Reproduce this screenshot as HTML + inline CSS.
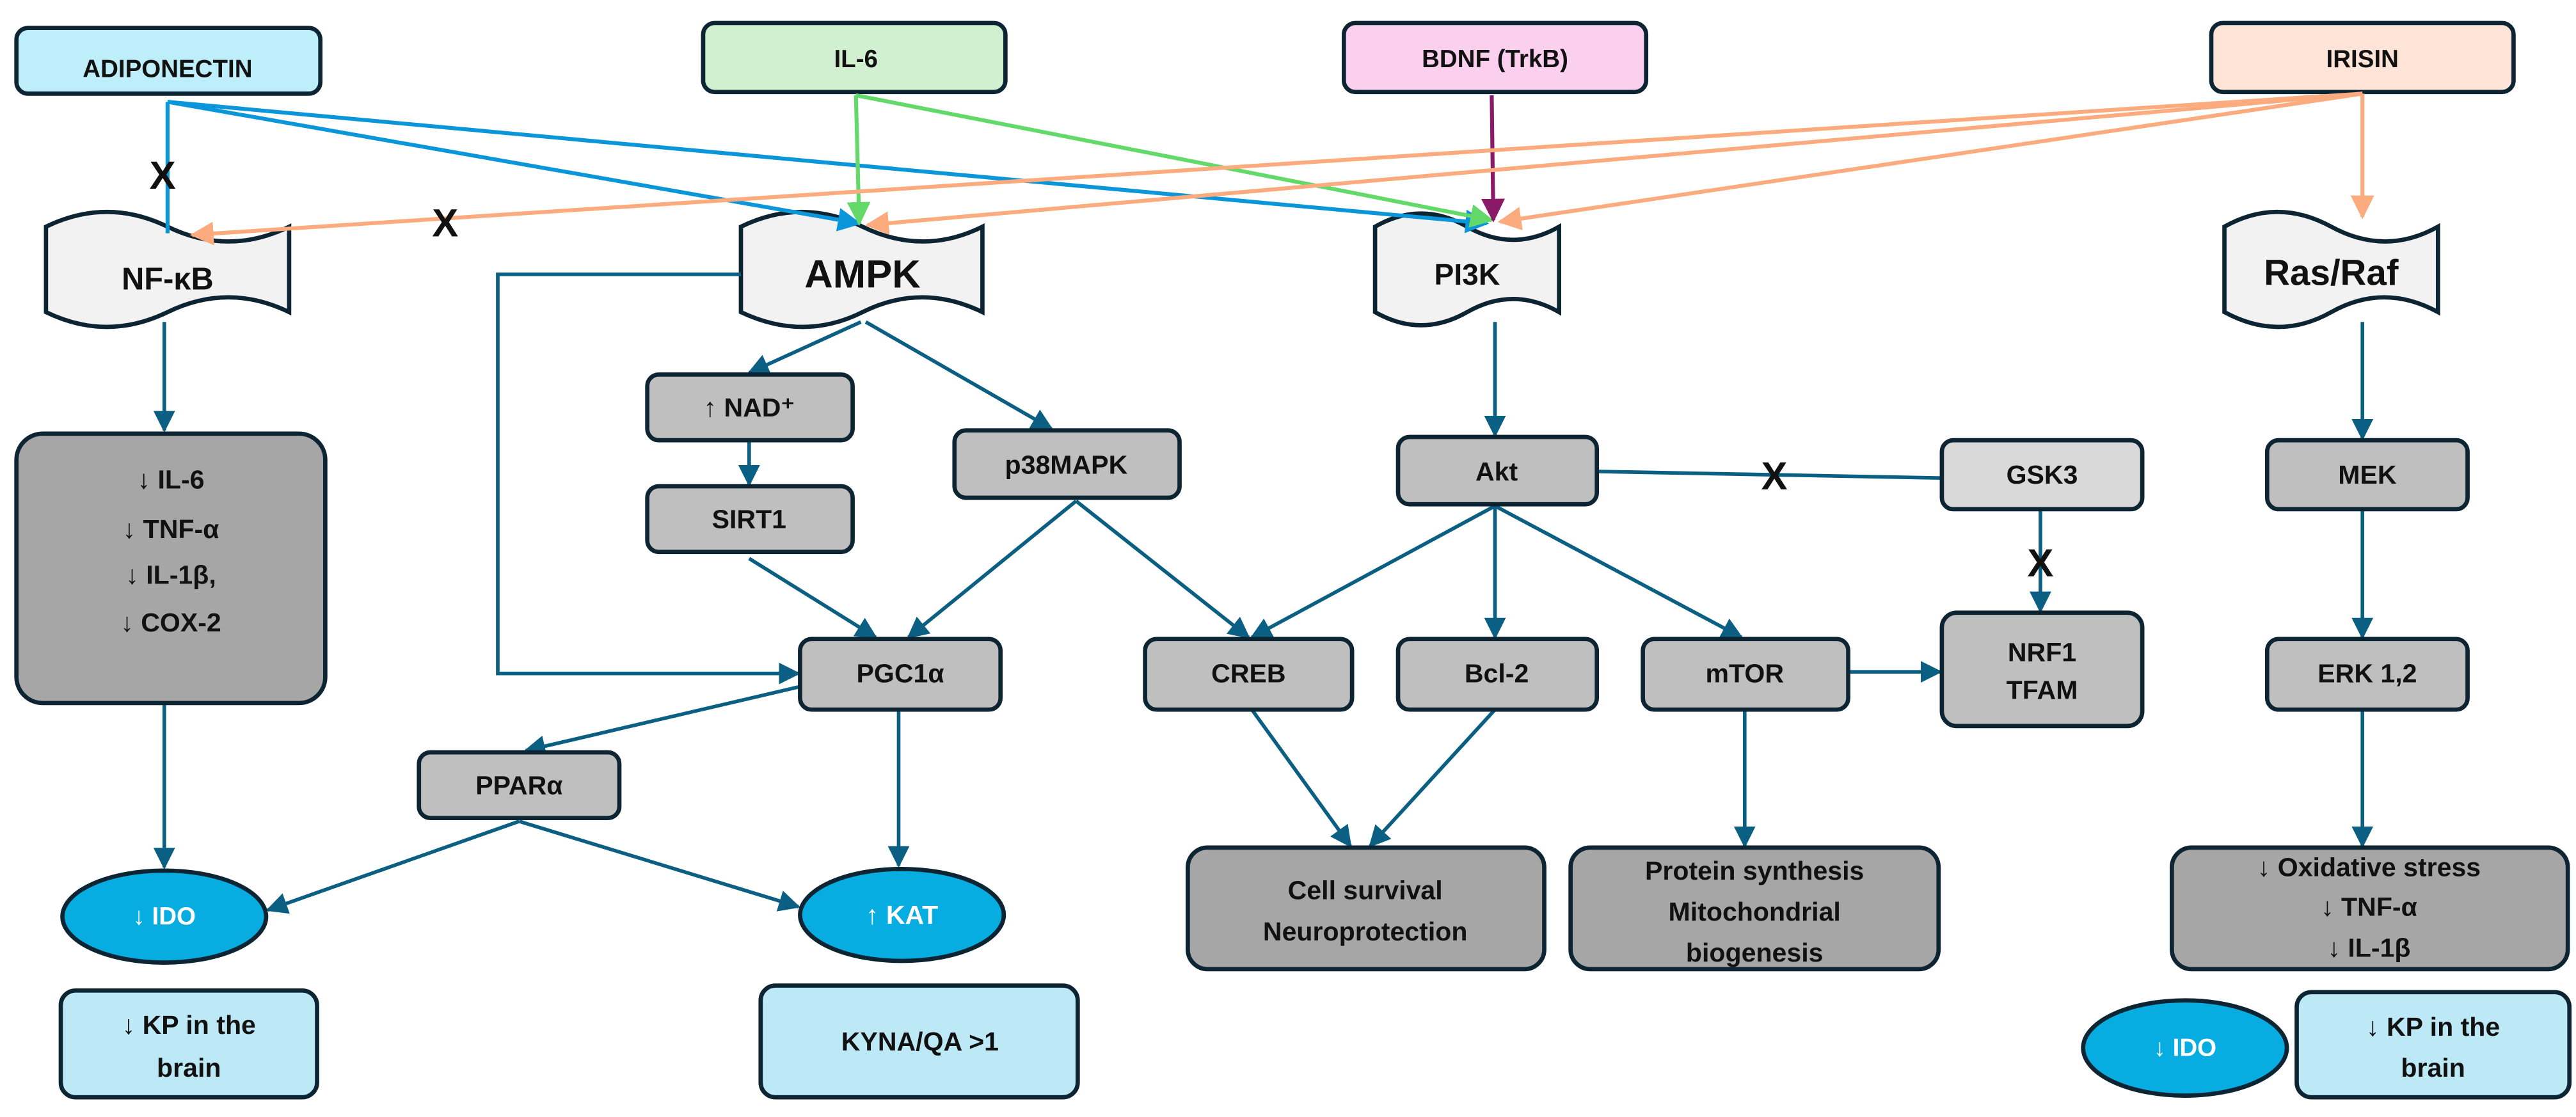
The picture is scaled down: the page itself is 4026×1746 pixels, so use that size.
<!DOCTYPE html>
<html><head><meta charset="utf-8"><style>
html,body{margin:0;padding:0;background:#fff}
svg{display:block}
text{font-family:"Liberation Sans Narrow","Liberation Sans",sans-serif;font-weight:bold;text-anchor:middle;dominant-baseline:central;fill:#111}
.b{stroke:#0d2433;stroke-width:2.6}
.l{stroke:#0b5f82;stroke-width:2.2;fill:none}
</style></head><body>
<svg width="4026" height="1746" viewBox="0 0 1568 680" xmlns="http://www.w3.org/2000/svg">
<defs>
<marker id="a" viewBox="0 0 10 10" refX="9" refY="5" markerWidth="6" markerHeight="6" orient="auto-start-reverse"><path d="M0,0L10,5L0,10z" fill="#0b5f82"/></marker>
<marker id="ab" viewBox="0 0 10 10" refX="9" refY="5" markerWidth="6" markerHeight="6" orient="auto"><path d="M0,0L10,5L0,10z" fill="#0a96d8"/></marker>
<marker id="ag" viewBox="0 0 10 10" refX="9" refY="5" markerWidth="6" markerHeight="6" orient="auto"><path d="M0,0L10,5L0,10z" fill="#62d968"/></marker>
<marker id="ap" viewBox="0 0 10 10" refX="9" refY="5" markerWidth="6" markerHeight="6" orient="auto"><path d="M0,0L10,5L0,10z" fill="#8a1a68"/></marker>
<marker id="ao" viewBox="0 0 10 10" refX="9" refY="5" markerWidth="6" markerHeight="6" orient="auto"><path d="M0,0L10,5L0,10z" fill="#fbab7e"/></marker>
</defs>

<rect class="b" x="10" y="17" width="185" height="40" rx="7" fill="#bdeefa"/><text x="102" y="42" font-size="15">ADIPONECTIN</text>
<rect class="b" x="428" y="14" width="184" height="42" rx="7" fill="#d0f0d0"/><text x="521" y="36" font-size="15">IL-6</text>
<rect class="b" x="818" y="14" width="184" height="42" rx="7" fill="#fbd0ee"/><text x="910" y="36" font-size="15">BDNF (TrkB)</text>
<rect class="b" x="1346" y="14" width="184" height="42" rx="7" fill="#fde4d6"/><text x="1438" y="36" font-size="15">IRISIN</text>

<!-- wave boxes -->
<g class="b" fill="#f2f2f2">
<path d="M28,138 Q65,120 102,138 T176,138 L176,190 Q139,172 102,190 T28,190 Z"/>
<path d="M451,138 Q488,120 525,138 T598,138 L598,190 Q561,172 525,190 T451,190 Z"/>
<path d="M837,138 Q865,122 893,138 T949,138 L949,190 Q921,174 893,190 T837,190 Z"/>
<path d="M1354,138 Q1386,120 1419,138 T1484,138 L1484,190 Q1451,172 1419,190 T1354,190 Z"/>
</g>

<g stroke-width="2.4" fill="none">
<line x1="102" y1="62" x2="102" y2="142" stroke="#0a96d8"/>
<line x1="102" y1="62" x2="523" y2="136" stroke="#0a96d8" marker-end="url(#ab)"/>
<line x1="102" y1="62" x2="905" y2="136" stroke="#0a96d8" marker-end="url(#ab)"/>
<line x1="521" y1="58" x2="523" y2="136" stroke="#62d968" marker-end="url(#ag)"/>
<line x1="521" y1="58" x2="908" y2="134" stroke="#62d968" marker-end="url(#ag)"/>
<line x1="908" y1="58" x2="909" y2="134" stroke="#8a1a68" marker-end="url(#ap)"/>
<line x1="1438" y1="57" x2="117" y2="143" stroke="#fbab7e" marker-end="url(#ao)"/>
<line x1="1438" y1="57" x2="528" y2="137" stroke="#fbab7e" marker-end="url(#ao)"/>
<line x1="1438" y1="57" x2="913" y2="135" stroke="#fbab7e" marker-end="url(#ao)"/>
<line x1="1438" y1="57" x2="1438" y2="132" stroke="#fbab7e" marker-end="url(#ao)"/>
</g>
<text x="99" y="107" font-size="24">X</text>
<text x="271" y="136" font-size="24">X</text>

<text x="102" y="170" font-size="19">NF-κB</text>
<text x="525" y="167" font-size="24">AMPK</text>
<text x="893" y="167" font-size="18">PI3K</text>
<text x="1419" y="166" font-size="22">Ras/Raf</text>

<g class="l">
<line x1="100" y1="196" x2="100" y2="262" marker-end="url(#a)"/>
<line x1="100" y1="428" x2="100" y2="528" marker-end="url(#a)"/>
<polyline points="451,167 303,167 303,410 486,410" marker-end="url(#a)"/>
<line x1="524" y1="196" x2="456" y2="227" marker-end="url(#a)"/>
<line x1="527" y1="196" x2="640" y2="261" marker-end="url(#a)"/>
<line x1="456" y1="268" x2="456" y2="295" marker-end="url(#a)"/>
<line x1="456" y1="340" x2="533" y2="388" marker-end="url(#a)"/>
<line x1="655" y1="305" x2="553" y2="388" marker-end="url(#a)"/>
<line x1="655" y1="305" x2="760" y2="388" marker-end="url(#a)"/>
<line x1="547" y1="432" x2="547" y2="527" marker-end="url(#a)"/>
<line x1="487" y1="418" x2="320" y2="457" marker-end="url(#a)"/>
<line x1="316" y1="500" x2="163" y2="554" marker-end="url(#a)"/>
<line x1="316" y1="500" x2="486" y2="552" marker-end="url(#a)"/>
<line x1="910" y1="196" x2="910" y2="265" marker-end="url(#a)"/>
<line x1="910" y1="308" x2="762" y2="388" marker-end="url(#a)"/>
<line x1="910" y1="308" x2="910" y2="388" marker-end="url(#a)"/>
<line x1="910" y1="308" x2="1060" y2="388" marker-end="url(#a)"/>
<line x1="972" y1="287" x2="1182" y2="291"/>
<line x1="1242" y1="310" x2="1242" y2="372" marker-end="url(#a)"/>
<line x1="1125" y1="409" x2="1181" y2="409" marker-end="url(#a)"/>
<line x1="1062" y1="432" x2="1062" y2="515" marker-end="url(#a)"/>
<line x1="762" y1="432" x2="822" y2="515" marker-end="url(#a)"/>
<line x1="910" y1="432" x2="834" y2="515" marker-end="url(#a)"/>
<line x1="1438" y1="196" x2="1438" y2="267" marker-end="url(#a)"/>
<line x1="1438" y1="310" x2="1438" y2="388" marker-end="url(#a)"/>
<line x1="1438" y1="432" x2="1438" y2="515" marker-end="url(#a)"/>
</g>
<text x="1080" y="290" font-size="24">X</text>
<text x="1242" y="343" font-size="24">X</text>

<g class="b">
<rect x="10" y="264" width="188" height="164" rx="16" fill="#a6a6a6"/>
<rect x="394" y="228" width="125" height="40" rx="7" fill="#bfbfbf"/>
<rect x="394" y="296" width="125" height="40" rx="7" fill="#bfbfbf"/>
<rect x="581" y="262" width="137" height="41" rx="7" fill="#bfbfbf"/>
<rect x="487" y="389" width="122" height="43" rx="7" fill="#bfbfbf"/>
<rect x="255" y="458" width="122" height="40" rx="7" fill="#bfbfbf"/>
<rect x="697" y="389" width="126" height="43" rx="7" fill="#bfbfbf"/>
<rect x="851" y="389" width="121" height="43" rx="7" fill="#bfbfbf"/>
<rect x="1000" y="389" width="125" height="43" rx="7" fill="#bfbfbf"/>
<rect x="851" y="266" width="121" height="41" rx="7" fill="#bfbfbf"/>
<rect x="1182" y="268" width="122" height="42" rx="7" fill="#d9d9d9"/>
<rect x="1182" y="373" width="122" height="69" rx="9" fill="#bfbfbf"/>
<rect x="1380" y="268" width="122" height="42" rx="7" fill="#bfbfbf"/>
<rect x="1380" y="389" width="122" height="43" rx="7" fill="#bfbfbf"/>
<rect x="723" y="516" width="217" height="74" rx="12" fill="#a6a6a6"/>
<rect x="956" y="516" width="224" height="74" rx="12" fill="#a6a6a6"/>
<rect x="1322" y="516" width="241" height="74" rx="12" fill="#a6a6a6"/>
<ellipse cx="100" cy="558" rx="62" ry="28" fill="#07ace0"/>
<ellipse cx="549" cy="557" rx="62" ry="28" fill="#07ace0"/>
<ellipse cx="1330" cy="638" rx="62" ry="29" fill="#07ace0"/>
<rect x="37" y="603" width="156" height="65" rx="9" fill="#bde8f6"/>
<rect x="463" y="600" width="193" height="68" rx="9" fill="#bde8f6"/>
<rect x="1398" y="604" width="166" height="64" rx="9" fill="#bde8f6"/>
</g>
<g font-size="16">
<text x="104" y="292">↓ IL-6</text>
<text x="104" y="322">↓ TNF-α</text>
<text x="104" y="350">↓ IL-1β,</text>
<text x="104" y="379">↓ COX-2</text>
<text x="456" y="248">↑ NAD⁺</text>
<text x="456" y="316">SIRT1</text>
<text x="649" y="283">p38MAPK</text>
<text x="548" y="410">PGC1α</text>
<text x="316" y="478">PPARα</text>
<text x="760" y="410">CREB</text>
<text x="911" y="410">Bcl-2</text>
<text x="1062" y="410">mTOR</text>
<text x="911" y="287">Akt</text>
<text x="1243" y="289">GSK3</text>
<text x="1243" y="397">NRF1</text>
<text x="1243" y="420">TFAM</text>
<text x="1441" y="289">MEK</text>
<text x="1441" y="410">ERK 1,2</text>
<text x="831" y="542">Cell survival</text>
<text x="831" y="567">Neuroprotection</text>
<text x="1068" y="530">Protein synthesis</text>
<text x="1068" y="555">Mitochondrial</text>
<text x="1068" y="580">biogenesis</text>
<text x="1442" y="528">↓  Oxidative stress</text>
<text x="1442" y="552">↓ TNF-α</text>
<text x="1442" y="577">↓ IL-1β</text>
<text x="100" y="558" style="fill:#fff" font-size="15">↓ IDO</text>
<text x="549" y="557" style="fill:#fff">↑ KAT</text>
<text x="1330" y="638" style="fill:#fff" font-size="15">↓ IDO</text>
<text x="115" y="624">↓ KP in the</text>
<text x="115" y="650">brain</text>
<text x="560" y="634">KYNA/QA &gt;1</text>
<text x="1481" y="625">↓ KP in the</text>
<text x="1481" y="650">brain</text>
</g>
</svg>
</body></html>
